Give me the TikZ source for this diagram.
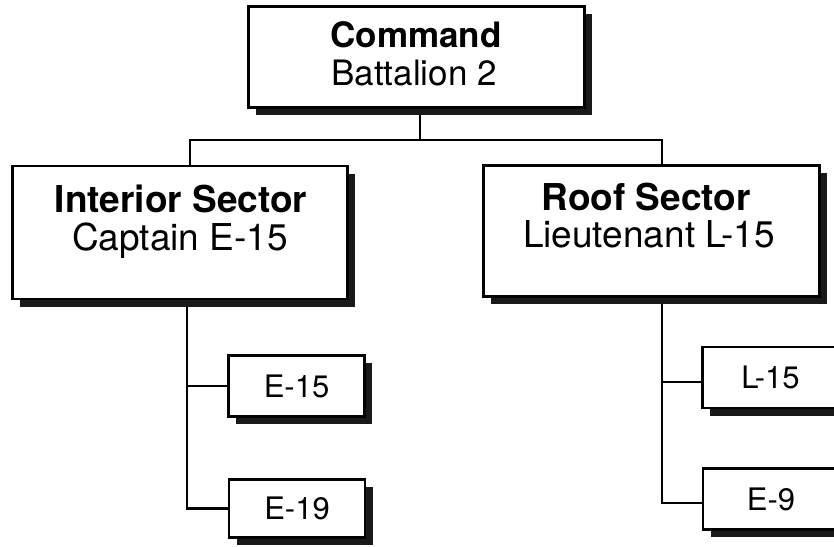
\documentclass[tikz,border=0pt]{standalone}
\usepackage{fontspec}
\setmainfont{TeX Gyre Heros}
\usetikzlibrary{shadows,backgrounds}
\tikzset{
  box/.style={draw=black, line width=2.4pt, fill=white, rectangle, inner sep=0pt,
    drop shadow={shadow xshift=7.5pt, shadow yshift=-7.5pt, opacity=1, fill=black!90}},
  bigbox/.style={box, minimum width=335pt, minimum height=133pt},
  cmdbox/.style={box, minimum width=336pt, minimum height=101pt},
  smallbox/.style={box, minimum width=136pt, minimum height=61pt,
    font=\fontsize{31}{34}\selectfont},
  headtxt/.style={anchor=base, inner sep=0pt, font=\fontsize{37}{38}\bfseries\selectfont},
  subtxt/.style={anchor=base, inner sep=0pt, font=\fontsize{37}{38}\selectfont},
  link/.style={draw=black, line width=2.4pt},
}
\begin{document}
\begin{tikzpicture}[x=1pt,y=-1pt]
\useasboundingbox (0,0) rectangle (834,546);
\clip (0,0) rectangle (834,546);

\node[cmdbox] (cmd) at (416.5,57) {};
\node[bigbox] (int) at (180,232.5) {};
\node[bigbox, minimum width=336pt, minimum height=131pt] (roof) at (651.5,231) {};
\node[smallbox] (e15) at (296.5,386) {E-15};
\node[smallbox, minimum height=58pt] (e19) at (297,508.5) {E-19};
\node[smallbox] (l15) at (770.5,377.5) {L-15};
\node[smallbox] (e9) at (771,499) {E-9};

\node[headtxt, font=\fontsize{35}{38}\bfseries\selectfont] (cmdA) at (416,47) {Command};
\node[subtxt, font=\fontsize{35}{38}\selectfont] (cmdB) at (414,85) {Battalion 2};
\node[headtxt] (intA) at (181,212) {Interior Sector};
\node[subtxt] (intB) at (180,250) {Captain E-15};
\node[headtxt] (roofA) at (646,210) {Roof Sector};
\node[subtxt] (roofB) at (649,247) {Lieutenant L-15};

\coordinate (bus) at (420,140);
\begin{scope}[on background layer]
  \fill[white] (0,0) rectangle (834,546);
  \draw[link] (cmd.south -| bus) -- (bus);
  \draw[link] ([xshift=10pt]int.north) |- (bus) -| ([xshift=10.5pt]roof.north);
  \draw[link] ([xshift=7pt]int.south) |- (e15.west);
  \draw[link] ([xshift=7pt]int.south) |- (e19.west);
  \draw[link] ([xshift=10.5pt]roof.south) |- ([yshift=-4.5pt]l15.west);
  \draw[link] ([xshift=10.5pt]roof.south) |- ([yshift=-4pt]e9.west);
\end{scope}
\end{tikzpicture}
\end{document}
